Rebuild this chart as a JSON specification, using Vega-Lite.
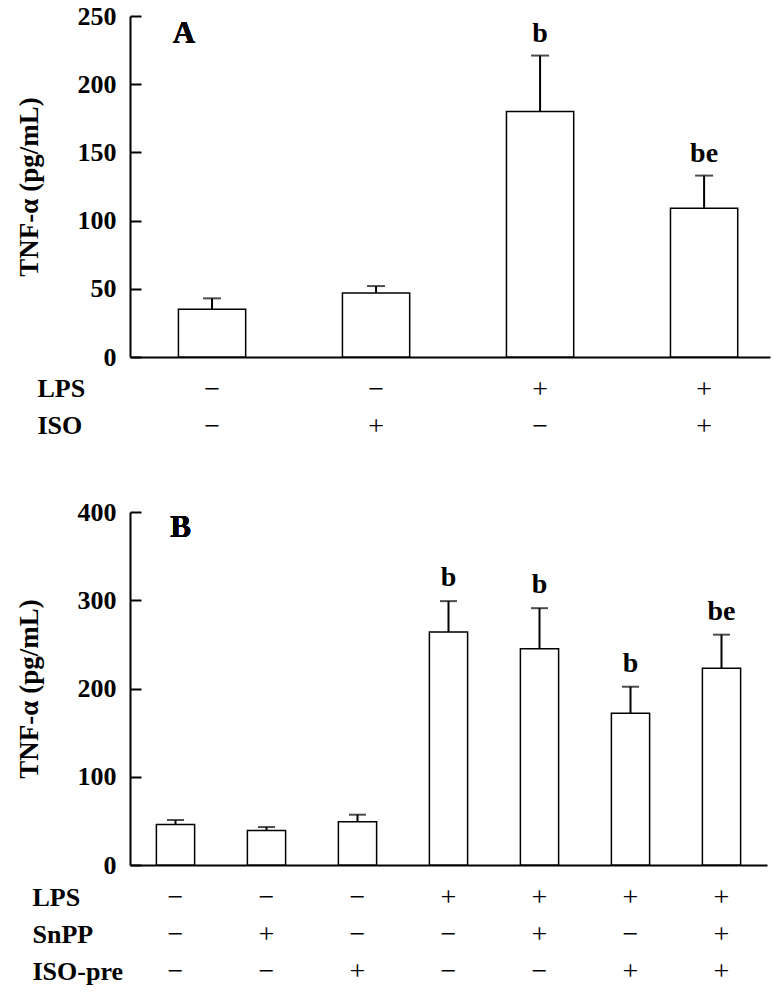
{
  "$schema": "https://vega.github.io/schema/vega-lite/v6.json",
  "background": "white",
  "padding": {"left": 15, "top": 3, "right": 3, "bottom": 5},
  "spacing": 59,
  "config": {
    "view": {"stroke": null},
    "font": "Liberation Serif",
    "axis": {"grid": false, "domainColor": "black", "domainWidth": 2, "tickColor": "black", "labelColor": "black", "titleColor": "black", "labelFont": "Liberation Serif", "titleFont": "Liberation Serif"},
    "axisY": {"tickSize": -11, "tickWidth": 2, "labelPadding": 25, "labelFontSize": 26, "labelFontWeight": "bold", "titleFontSize": 27, "titleFontWeight": "bold", "titlePadding": 34},
    "axisX": {"ticks": false, "labelAngle": 0, "labelFontSize": 28, "labelFontWeight": "normal", "labelLineHeight": 37, "labelPadding": 18, "titleFontSize": 26, "titleFontWeight": "bold", "titleAlign": "left", "titleBaseline": "alphabetic", "titleLineHeight": 37, "titleAnchor": "start"}
  },
  "vconcat": [
    {
      "width": 640,
      "height": 341,
      "data": {"values": [
        {"g": "−|−", "mean": 35, "err": 43, "sig": ""},
        {"g": "−|+", "mean": 47, "err": 52, "sig": ""},
        {"g": "+|−", "mean": 180, "err": 221, "sig": "b"},
        {"g": "+|+", "mean": 109, "err": 133, "sig": "be"}
      ]},
      "encoding": {
        "x": {"field": "g", "type": "nominal", "sort": null,
          "scale": {"paddingInner": 0.59, "paddingOuter": 0.246, "align": 0.6},
          "axis": {"title": ["LPS", "ISO"], "titleX": -93, "titleY": 39, "labelExpr": "split(datum.value, '|')"}},
        "y": {"type": "quantitative", "scale": {"domain": [0, 250], "nice": false},
          "axis": {"title": "TNF-α (pg/mL)", "values": [0, 50, 100, 150, 200, 250]}}
      },
      "layer": [
        {"mark": {"type": "bar", "fill": "white", "stroke": "black", "strokeWidth": 1.5},
         "encoding": {"y": {"field": "mean"}}},
        {"mark": {"type": "rule", "color": "black", "strokeWidth": 2},
         "encoding": {"y": {"field": "mean"}, "y2": {"field": "err"}}},
        {"mark": {"type": "tick", "color": "black", "thickness": 2, "size": 18},
         "encoding": {"y": {"field": "err"}}},
        {"mark": {"type": "text", "fontSize": 28, "fontWeight": "bold", "baseline": "bottom", "dy": -8, "color": "black"},
         "encoding": {"y": {"field": "err"}, "text": {"field": "sig"}}},
        {"mark": {"type": "text", "text": "A", "fontSize": 31, "fontWeight": "bold", "baseline": "alphabetic", "dx": -28, "color": "black"},
         "encoding": {"x": {"datum": "−|−"}, "y": {"datum": 230}}}
      ]
    },
    {
      "width": 637,
      "height": 353,
      "data": {"values": [
        {"g": "−|−|−", "mean": 46, "err": 51, "sig": ""},
        {"g": "−|+|−", "mean": 39, "err": 43, "sig": ""},
        {"g": "−|−|+", "mean": 49, "err": 57, "sig": ""},
        {"g": "+|−|−", "mean": 264, "err": 299, "sig": "b"},
        {"g": "+|+|−", "mean": 245, "err": 291, "sig": "b"},
        {"g": "+|−|+", "mean": 172, "err": 202, "sig": "b"},
        {"g": "+|+|+", "mean": 223, "err": 261, "sig": "be"}
      ]},
      "encoding": {
        "x": {"field": "g", "type": "nominal", "sort": null,
          "scale": {"paddingInner": 0.58, "paddingOuter": 0.29},
          "axis": {"title": ["LPS", "SnPP", "ISO-pre"], "titleX": -98, "titleY": 40, "labelExpr": "split(datum.value, '|')"}},
        "y": {"type": "quantitative", "scale": {"domain": [0, 400], "nice": false},
          "axis": {"title": "TNF-α (pg/mL)", "values": [0, 100, 200, 300, 400]}}
      },
      "layer": [
        {"mark": {"type": "bar", "fill": "white", "stroke": "black", "strokeWidth": 1.5},
         "encoding": {"y": {"field": "mean"}}},
        {"mark": {"type": "rule", "color": "black", "strokeWidth": 2},
         "encoding": {"y": {"field": "mean"}, "y2": {"field": "err"}}},
        {"mark": {"type": "tick", "color": "black", "thickness": 2, "size": 17},
         "encoding": {"y": {"field": "err"}}},
        {"mark": {"type": "text", "fontSize": 28, "fontWeight": "bold", "baseline": "bottom", "dy": -9, "color": "black"},
         "encoding": {"y": {"field": "err"}, "text": {"field": "sig"}}},
        {"mark": {"type": "text", "text": "B", "fontSize": 31, "fontWeight": "bold", "baseline": "alphabetic", "dx": 5, "color": "black"},
         "encoding": {"x": {"datum": "−|−|−"}, "y": {"datum": 372}}}
      ]
    }
  ]
}
